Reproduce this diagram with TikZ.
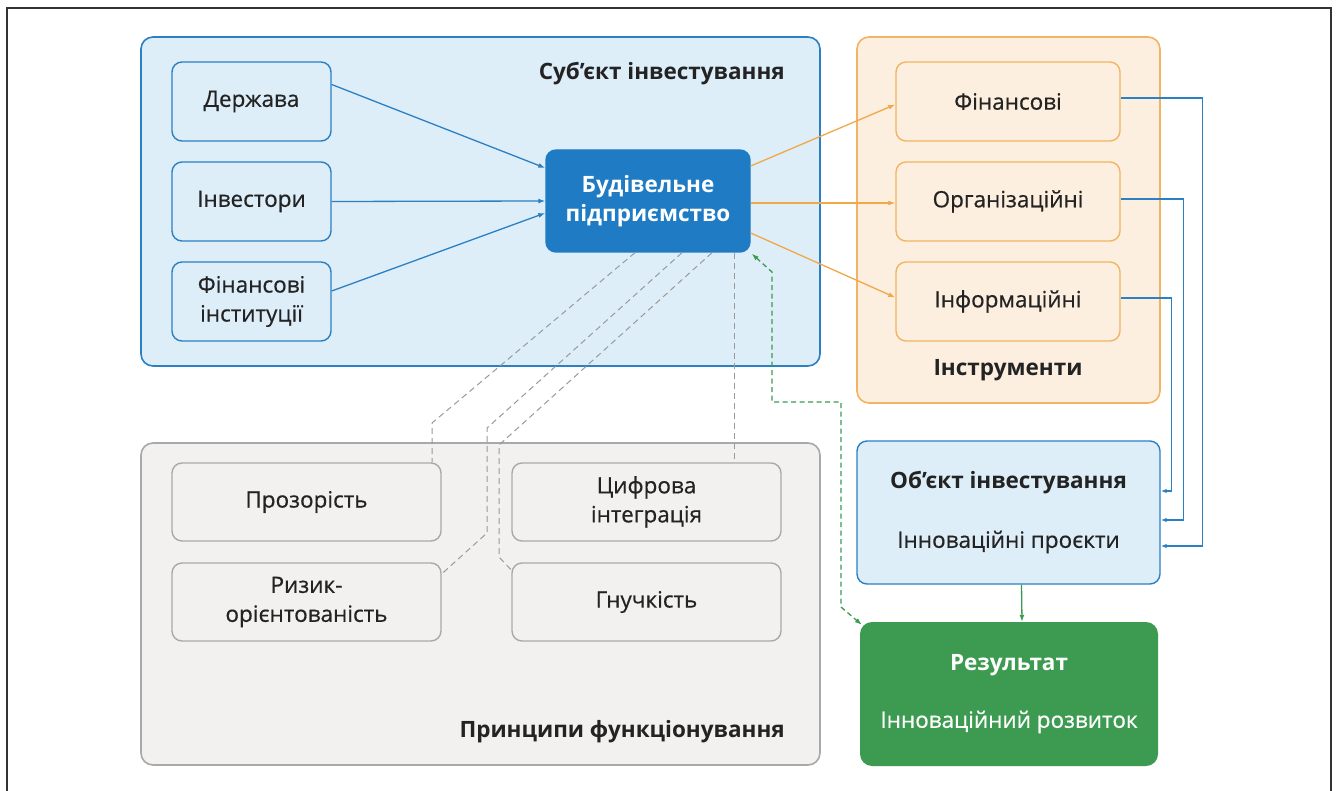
\documentclass[tikz,border=0pt]{standalone}
\usepackage{fontspec}
\setmainfont{Open Sans}
\newfontfamily\medf{Open Sans}[BoldFont={Open Sans}, BoldFeatures={FakeBold=0.5}]
\usetikzlibrary{arrows.meta,calc}
\definecolor{bluefill}{HTML}{DDEEF9}
\definecolor{blueline}{HTML}{2B80C4}
\definecolor{budfill}{HTML}{1F7CC4}
\definecolor{orfill}{HTML}{FDEFDF}
\definecolor{orline}{HTML}{F1B464}
\definecolor{orarrow}{HTML}{F0A848}
\definecolor{grfill}{HTML}{F3F1EF}
\definecolor{grline}{HTML}{A9A9A9}
\definecolor{grdash}{HTML}{9A9A9A}
\definecolor{greenfill}{HTML}{3C9B50}
\definecolor{txt}{HTML}{232323}
\definecolor{frame}{HTML}{333333}
\tikzset{
  container/.style={rounded corners=12pt, line width=1.6pt, inner sep=0pt},
  bluecont/.style={container, draw=blueline, fill=bluefill},
  orcont/.style={container, draw=orline, fill=orfill},
  grcont/.style={container, draw=grline, fill=grfill},
  bbox/.style={rounded corners=10pt, line width=1.4pt, draw=blueline, fill=bluefill, text=txt, align=center, font=\fontsize{22.5}{29}\selectfont\medf\bfseries, inner sep=0pt},
  obox/.style={bbox, draw=orline, fill=orfill},
  gbox/.style={bbox, draw=grline, fill=grfill},
  title/.style={font=\fontsize{22.5}{29}\selectfont\bfseries, text=txt, inner sep=0pt},
  plain/.style={font=\fontsize{22.5}{29}\selectfont\medf\bfseries, inner sep=0pt},
  barr/.style={draw=blueline, line width=1.3pt, -{Latex[length=7pt,width=5pt]}},
  oarr/.style={draw=orarrow, line width=1.3pt, -{Latex[length=7pt,width=5pt]}},
  rarr/.style={draw=blueline, line width=1.3pt, -{Latex[length=6pt,width=4.5pt]}},
  gdash/.style={draw=grdash, line width=1pt, dash pattern=on 6pt off 4pt},
  grndash/.style={draw=greenfill, line width=1.3pt, dash pattern=on 5pt off 3.5pt, {Latex[length=7pt,width=5pt]}-{Latex[length=7pt,width=5pt]}},
}
\begin{document}
\begin{tikzpicture}[x=1pt,y=-1pt]
\useasboundingbox (0,0) rectangle (1338,791);
\fill[white] (0,0) rectangle (1338,791);
\draw[frame, line width=2.6pt] (7,791) -- (7,8) -- (1331,8) -- (1331,791);

% containers
\node[bluecont, minimum width=679pt, minimum height=329pt] (subj) at (480.5,201.5) {};
\node[orcont, minimum width=303pt, minimum height=366pt] (instr) at (1008.5,220) {};
\node[grcont, minimum width=679pt, minimum height=322pt] (princ) at (480.5,604) {};

\node[title, anchor=east] (subjt) at (785,74) {Суб’єкт інвестування};
\node[title] (instrt) at (1008,370) {Інструменти};
\node[title, anchor=east] (princt) at (785,732) {Принципи функціонування};

% subject boxes
\node[bbox, minimum width=159pt, minimum height=79pt] (d) at (251.5,101.5) {Держава};
\node[bbox, minimum width=159pt, minimum height=79pt] (inv) at (251.5,201.5) {Інвестори};
\node[bbox, minimum width=159pt, minimum height=79pt] (fi) at (251.5,301.5) {Фінансові\\інституції};
\node[bbox, fill=budfill, draw=budfill, text=white, font=\fontsize{22.5}{29}\selectfont\bfseries, minimum width=204pt, minimum height=102pt] (bud) at (648,201) {Будівельне\\підприємство};

% instruments
\node[obox, minimum width=224pt, minimum height=79pt] (fin) at (1008,101.5) {Фінансові};
\node[obox, minimum width=224pt, minimum height=79pt] (org) at (1008,201.5) {Організаційні};
\node[obox, minimum width=224pt, minimum height=79pt] (inf) at (1008,301.5) {Інформаційні};

% principles
\node[gbox, minimum width=269pt, minimum height=78pt] (prz) at (306.5,502) {Прозорість};
\node[gbox, minimum width=269pt, minimum height=78pt] (cyf) at (646.5,502) {Цифрова\\інтеграція};
\node[gbox, minimum width=269pt, minimum height=78pt] (ryz) at (306.5,602) {Ризик-\\орієнтованість};
\node[gbox, minimum width=269pt, minimum height=78pt] (gn) at (646.5,602) {Гнучкість};

% object and result
\node[bbox, minimum width=303pt, minimum height=143pt] (obj) at (1008.5,512.5) {};
\node[title] (objt) at (1008.5,483) {Об’єкт інвестування};
\node[plain, text=txt] (objs) at (1008.5,542) {Інноваційні проєкти};
\node[rounded corners=12pt, fill=greenfill, minimum width=298pt, minimum height=144pt, inner sep=0pt] (res) at (1009,694) {};
\node[title, text=white] (rest) at (1009,665) {Результат};
\node[plain, text=white] (ress) at (1009,722) {Інноваційний розвиток};

% blue arrows into bud
\draw[barr] ($(d.east)+(0,-17)$) -- ($(bud.west)+(0,-33)$);
\draw[barr] (inv.east) -- (bud.west);
\draw[barr] ($(fi.east)+(0,-10.5)$) -- ($(bud.west)+(0,12)$);

% orange arrows
\draw[oarr] ($(bud.east)+(0,-35)$) -- ($(fin.west)+(0,3)$);
\draw[oarr] ($(bud.east)+(0,2)$) -- ($(org.west)+(0,1.5)$);
\draw[oarr] ($(bud.east)+(0,32)$) -- ($(inf.west)+(0,-4)$);

% instruments to object
\draw[rarr] ($(fin.east)+(0,-3.5)$) -- ++(82,0) |- ($(obj.east)+(0,33.5)$);
\draw[rarr] ($(org.east)+(0,-2.5)$) -- ++(63,0) |- ($(obj.east)+(0,7.5)$);
\draw[rarr] ($(inf.east)+(0,-3.5)$) -- ++(51,0) |- ($(obj.east)+(0,-21.5)$);

% object to result
\draw[draw=greenfill, line width=1.3pt, -{Latex[length=7pt,width=5pt]}] ($(obj.south)+(13,0)$) -- ($(res.north)+(13,0)$);

% green dashed feedback
\coordinate (g1) at (772,272);
\coordinate (g2) at (772,402);
\coordinate (g3) at (841,402);
\coordinate (g4) at (841,607);
\draw[grndash] ($(bud.south east)+(1,1)$) -- (g1) -- (g2) -- (g3) -- (g4) -- ($(res.north west)+(2,3)$);

% grey dashed lines to principles
\coordinate (p1) at (432,423);
\coordinate (p2a) at (487,428);
\coordinate (p2b) at (487,533);
\coordinate (p3a) at (499,445);
\coordinate (p3b) at (499,557);
\draw[gdash] ($(bud.south)+(-13,0)$) -- (p1) -- ($(prz.north)+(125.5,0)$);
\draw[gdash] ($(bud.south)+(34,0)$) -- (p2a) -- (p2b) -- ($(ryz.east)+(1,-29)$);
\draw[gdash] ($(bud.south)+(64,0)$) -- (p3a) -- (p3b) -- ($(gn.west)+(0,-32)$);
\draw[gdash] ($(bud.south)+(86,0)$) -- ($(cyf.north)+(87.5,0)$);
\end{tikzpicture}
\end{document}
